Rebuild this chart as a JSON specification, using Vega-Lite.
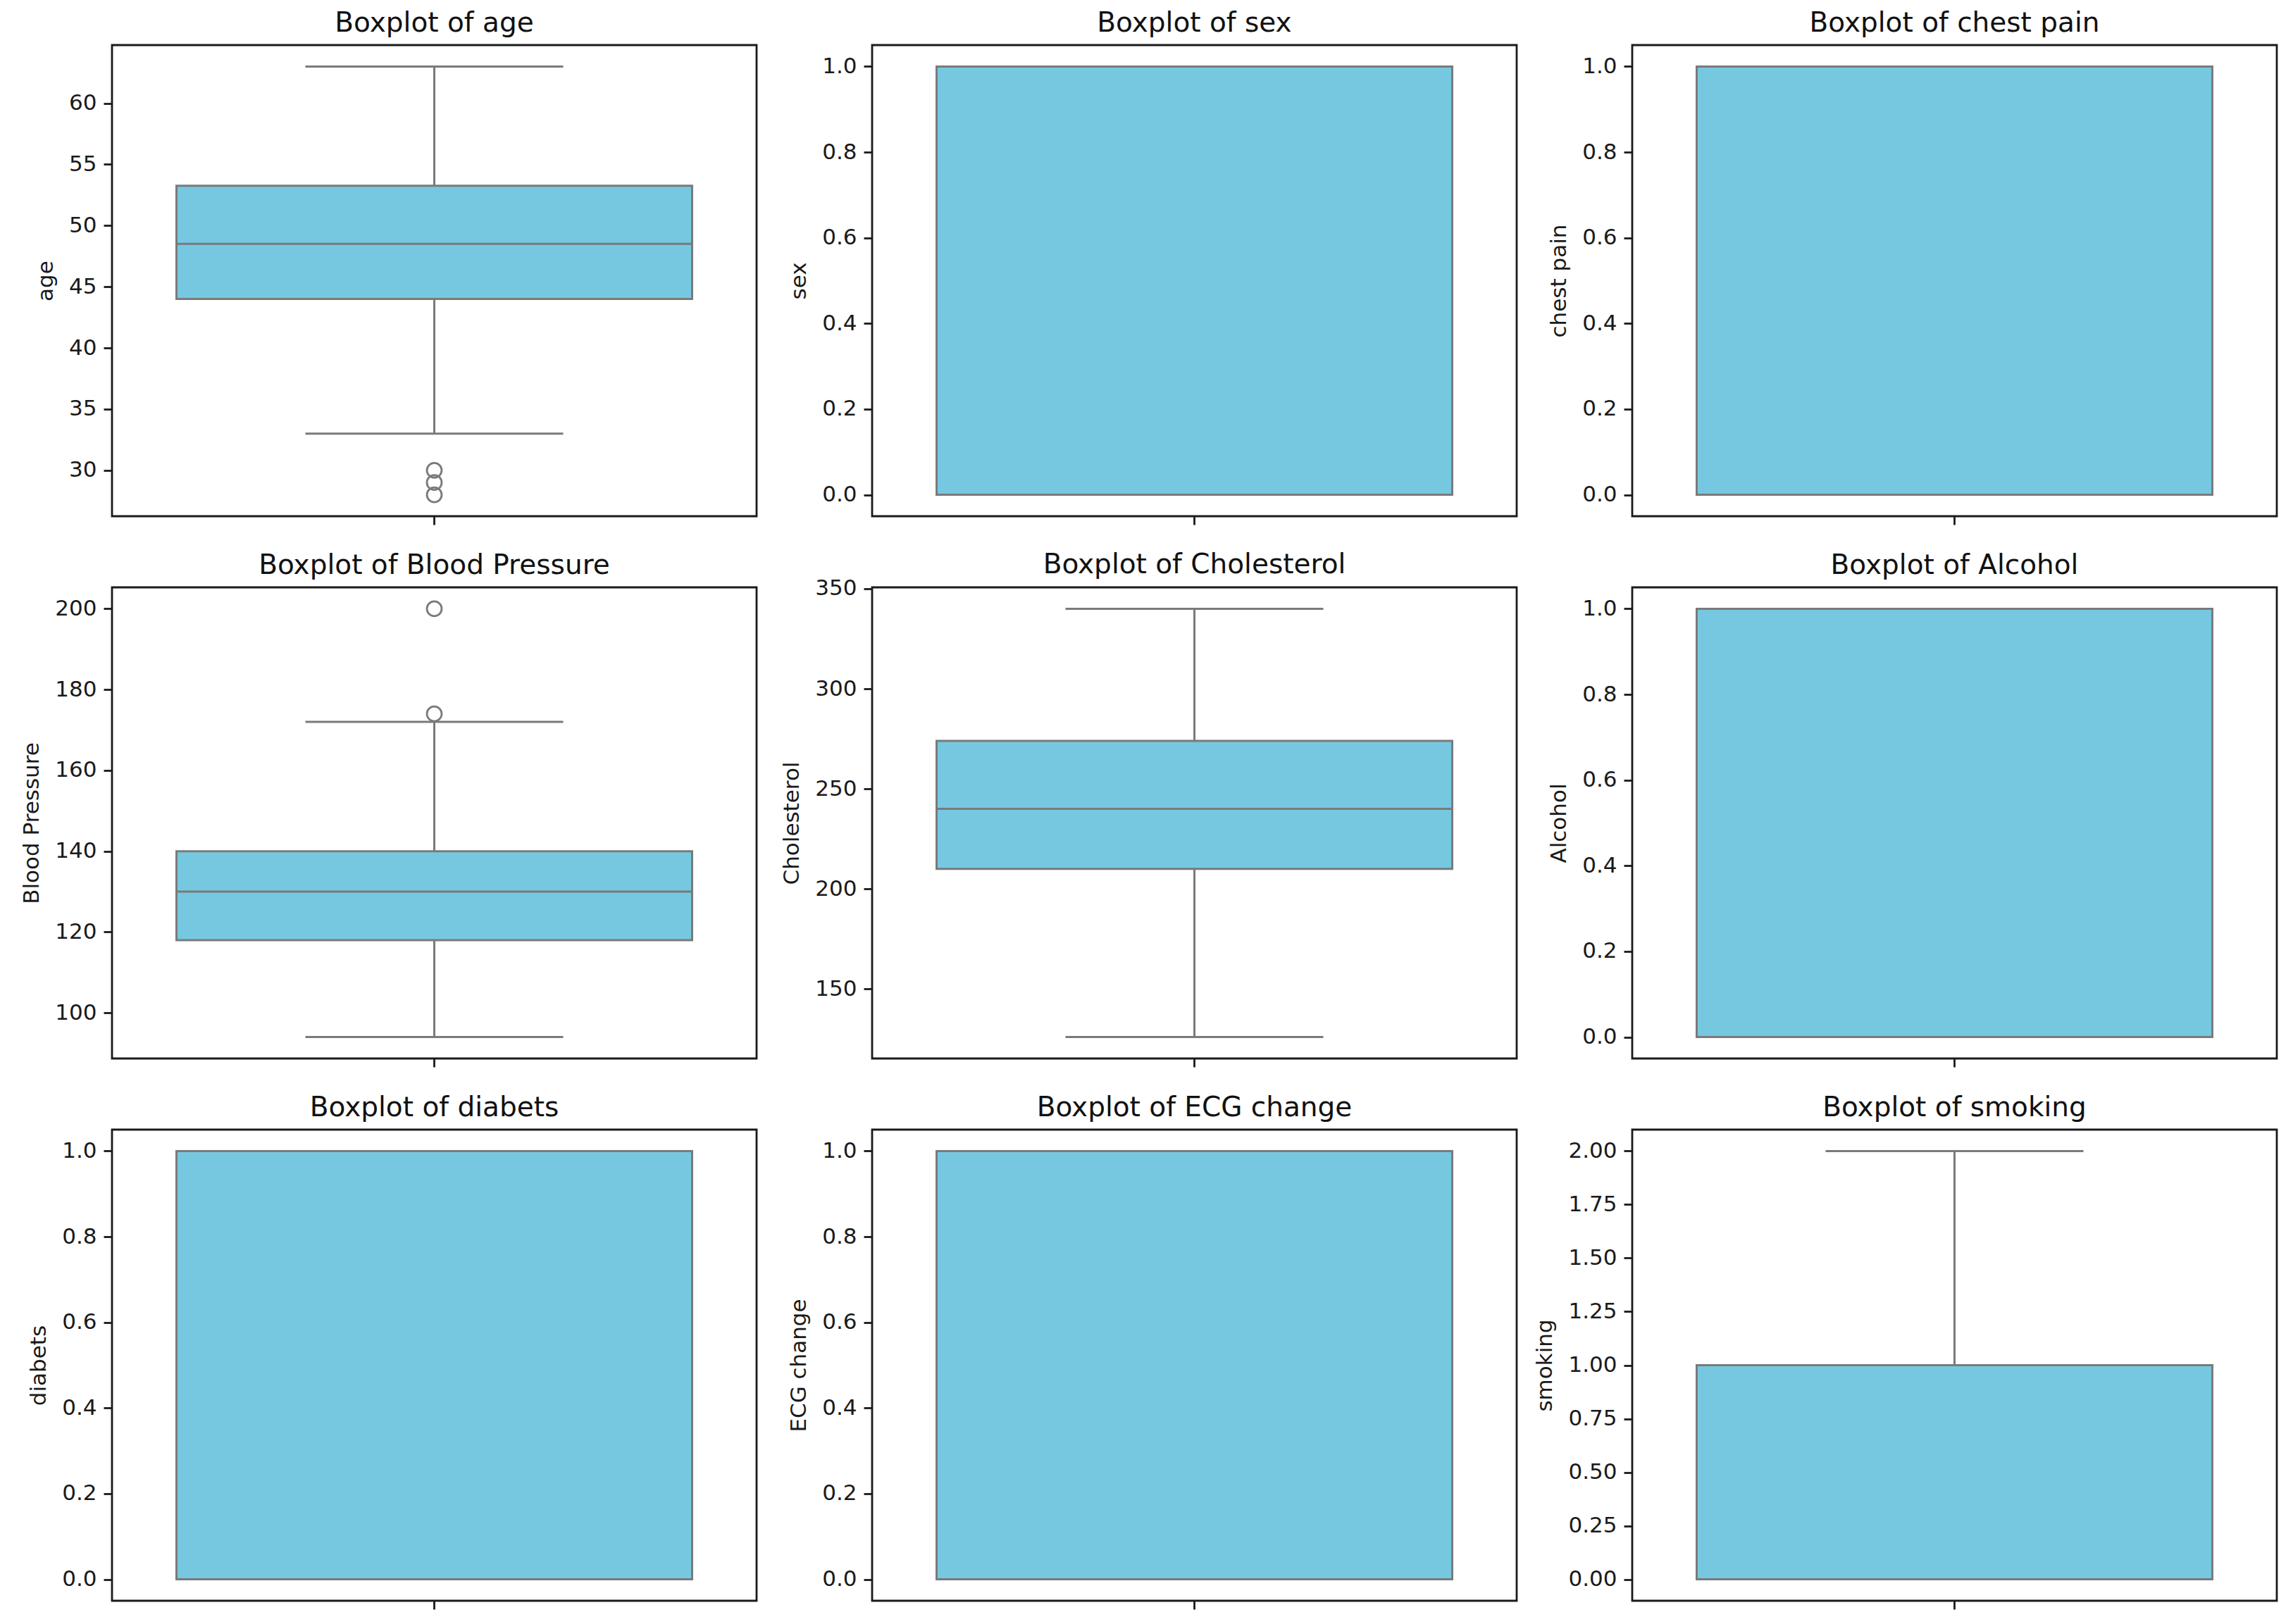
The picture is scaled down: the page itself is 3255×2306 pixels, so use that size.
{
  "$schema": "https://vega.github.io/schema/vega-lite/v6.json",
  "background": "white",
  "padding": {"left": 28, "top": 12, "right": 10, "bottom": 10},
  "data": {"values": [
    {"variable": "age", "stat": "lower", "value": 33},
    {"variable": "age", "stat": "q1", "value": 44},
    {"variable": "age", "stat": "median", "value": 48.5},
    {"variable": "age", "stat": "q3", "value": 53.25},
    {"variable": "age", "stat": "upper", "value": 63},
    {"variable": "age", "stat": "outlier", "value": 30},
    {"variable": "age", "stat": "outlier", "value": 29},
    {"variable": "age", "stat": "outlier", "value": 28},
    {"variable": "sex", "stat": "lower", "value": 0},
    {"variable": "sex", "stat": "q1", "value": 0},
    {"variable": "sex", "stat": "median", "value": 1},
    {"variable": "sex", "stat": "q3", "value": 1},
    {"variable": "sex", "stat": "upper", "value": 1},
    {"variable": "chest pain", "stat": "lower", "value": 0},
    {"variable": "chest pain", "stat": "q1", "value": 0},
    {"variable": "chest pain", "stat": "median", "value": 1},
    {"variable": "chest pain", "stat": "q3", "value": 1},
    {"variable": "chest pain", "stat": "upper", "value": 1},
    {"variable": "Blood Pressure", "stat": "lower", "value": 94},
    {"variable": "Blood Pressure", "stat": "q1", "value": 118},
    {"variable": "Blood Pressure", "stat": "median", "value": 130},
    {"variable": "Blood Pressure", "stat": "q3", "value": 140},
    {"variable": "Blood Pressure", "stat": "upper", "value": 172},
    {"variable": "Blood Pressure", "stat": "outlier", "value": 174},
    {"variable": "Blood Pressure", "stat": "outlier", "value": 200},
    {"variable": "Cholesterol", "stat": "lower", "value": 126},
    {"variable": "Cholesterol", "stat": "q1", "value": 210},
    {"variable": "Cholesterol", "stat": "median", "value": 240},
    {"variable": "Cholesterol", "stat": "q3", "value": 274},
    {"variable": "Cholesterol", "stat": "upper", "value": 340},
    {"variable": "Alcohol", "stat": "lower", "value": 0},
    {"variable": "Alcohol", "stat": "q1", "value": 0},
    {"variable": "Alcohol", "stat": "median", "value": 1},
    {"variable": "Alcohol", "stat": "q3", "value": 1},
    {"variable": "Alcohol", "stat": "upper", "value": 1},
    {"variable": "diabets", "stat": "lower", "value": 0},
    {"variable": "diabets", "stat": "q1", "value": 0},
    {"variable": "diabets", "stat": "median", "value": 0},
    {"variable": "diabets", "stat": "q3", "value": 1},
    {"variable": "diabets", "stat": "upper", "value": 1},
    {"variable": "ECG change", "stat": "lower", "value": 0},
    {"variable": "ECG change", "stat": "q1", "value": 0},
    {"variable": "ECG change", "stat": "median", "value": 0},
    {"variable": "ECG change", "stat": "q3", "value": 1},
    {"variable": "ECG change", "stat": "upper", "value": 1},
    {"variable": "smoking", "stat": "lower", "value": 0},
    {"variable": "smoking", "stat": "q1", "value": 0},
    {"variable": "smoking", "stat": "median", "value": 1},
    {"variable": "smoking", "stat": "q3", "value": 1},
    {"variable": "smoking", "stat": "upper", "value": 2}
  ]},
  "columns": 3,
  "bounds": "flush",
  "align": "all",
  "spacing": {"row": 101, "column": 164},
  "concat": [
    {
      "title": "Boxplot of age", "width": 915, "height": 669,
      "transform": [{"filter": "datum.variable === 'age'"}],
      "encoding": {
        "x": {"field": "variable", "type": "nominal", "scale": {"type": "band", "paddingInner": 0, "paddingOuter": 0}, "axis": {"title": null, "labels": false, "ticks": true, "domain": false}},
        "y": {"field": "value", "type": "quantitative", "title": "age", "scale": {"domain": [26.25, 64.75], "nice": false, "zero": false}, "axis": {"values": [30, 35, 40, 45, 50, 55, 60]}}
      },
      "layer": [
        {"transform": [{"filter": "datum.stat === 'lower' || datum.stat === 'upper'"}, {"aggregate": [{"op": "min", "field": "value", "as": "value"}, {"op": "max", "field": "value", "as": "value2"}], "groupby": ["variable"]}], "mark": {"type": "rule", "color": "#7a7a7a", "strokeWidth": 3}, "encoding": {"y2": {"field": "value2"}}},
        {"transform": [{"filter": "datum.stat === 'q1' || datum.stat === 'q3'"}, {"aggregate": [{"op": "min", "field": "value", "as": "value"}, {"op": "max", "field": "value", "as": "value2"}], "groupby": ["variable"]}], "mark": {"type": "bar", "fill": "#76c8e1", "stroke": "#7a7a7a", "strokeWidth": 3, "width": {"band": 0.8}}, "encoding": {"y2": {"field": "value2"}}},
        {"transform": [{"filter": "datum.stat === 'median'"}], "mark": {"type": "tick", "color": "#7a7a7a", "size": 732, "thickness": 3, "opacity": 1}},
        {"transform": [{"filter": "datum.stat === 'lower' || datum.stat === 'upper'"}], "mark": {"type": "tick", "color": "#7a7a7a", "size": 366, "thickness": 3, "opacity": 1}},
        {"transform": [{"filter": "datum.stat === 'outlier'"}], "mark": {"type": "point", "shape": "circle", "filled": false, "color": "#7a7a7a", "size": 440, "strokeWidth": 2.8, "opacity": 1}}
      ]
    },
    {
      "title": "Boxplot of sex", "width": 915, "height": 669,
      "transform": [{"filter": "datum.variable === 'sex'"}],
      "encoding": {
        "x": {"field": "variable", "type": "nominal", "scale": {"type": "band", "paddingInner": 0, "paddingOuter": 0}, "axis": {"title": null, "labels": false, "ticks": true, "domain": false}},
        "y": {"field": "value", "type": "quantitative", "title": "sex", "scale": {"domain": [-0.05, 1.05], "nice": false, "zero": false}, "axis": {"values": [0, 0.2, 0.4, 0.6, 0.8, 1.0], "format": ".1f"}}
      },
      "layer": [
        {"transform": [{"filter": "datum.stat === 'lower' || datum.stat === 'upper'"}, {"aggregate": [{"op": "min", "field": "value", "as": "value"}, {"op": "max", "field": "value", "as": "value2"}], "groupby": ["variable"]}], "mark": {"type": "rule", "color": "#7a7a7a", "strokeWidth": 3}, "encoding": {"y2": {"field": "value2"}}},
        {"transform": [{"filter": "datum.stat === 'q1' || datum.stat === 'q3'"}, {"aggregate": [{"op": "min", "field": "value", "as": "value"}, {"op": "max", "field": "value", "as": "value2"}], "groupby": ["variable"]}], "mark": {"type": "bar", "fill": "#76c8e1", "stroke": "#7a7a7a", "strokeWidth": 3, "width": {"band": 0.8}}, "encoding": {"y2": {"field": "value2"}}},
        {"transform": [{"filter": "datum.stat === 'median'"}], "mark": {"type": "tick", "color": "#7a7a7a", "size": 732, "thickness": 3, "opacity": 1}},
        {"transform": [{"filter": "datum.stat === 'lower' || datum.stat === 'upper'"}], "mark": {"type": "tick", "color": "#7a7a7a", "size": 366, "thickness": 3, "opacity": 1}},
        {"transform": [{"filter": "datum.stat === 'outlier'"}], "mark": {"type": "point", "shape": "circle", "filled": false, "color": "#7a7a7a", "size": 440, "strokeWidth": 2.8, "opacity": 1}}
      ]
    },
    {
      "title": "Boxplot of chest pain", "width": 915, "height": 669,
      "transform": [{"filter": "datum.variable === 'chest pain'"}],
      "encoding": {
        "x": {"field": "variable", "type": "nominal", "scale": {"type": "band", "paddingInner": 0, "paddingOuter": 0}, "axis": {"title": null, "labels": false, "ticks": true, "domain": false}},
        "y": {"field": "value", "type": "quantitative", "title": "chest pain", "scale": {"domain": [-0.05, 1.05], "nice": false, "zero": false}, "axis": {"values": [0, 0.2, 0.4, 0.6, 0.8, 1.0], "format": ".1f"}}
      },
      "layer": [
        {"transform": [{"filter": "datum.stat === 'lower' || datum.stat === 'upper'"}, {"aggregate": [{"op": "min", "field": "value", "as": "value"}, {"op": "max", "field": "value", "as": "value2"}], "groupby": ["variable"]}], "mark": {"type": "rule", "color": "#7a7a7a", "strokeWidth": 3}, "encoding": {"y2": {"field": "value2"}}},
        {"transform": [{"filter": "datum.stat === 'q1' || datum.stat === 'q3'"}, {"aggregate": [{"op": "min", "field": "value", "as": "value"}, {"op": "max", "field": "value", "as": "value2"}], "groupby": ["variable"]}], "mark": {"type": "bar", "fill": "#76c8e1", "stroke": "#7a7a7a", "strokeWidth": 3, "width": {"band": 0.8}}, "encoding": {"y2": {"field": "value2"}}},
        {"transform": [{"filter": "datum.stat === 'median'"}], "mark": {"type": "tick", "color": "#7a7a7a", "size": 732, "thickness": 3, "opacity": 1}},
        {"transform": [{"filter": "datum.stat === 'lower' || datum.stat === 'upper'"}], "mark": {"type": "tick", "color": "#7a7a7a", "size": 366, "thickness": 3, "opacity": 1}},
        {"transform": [{"filter": "datum.stat === 'outlier'"}], "mark": {"type": "point", "shape": "circle", "filled": false, "color": "#7a7a7a", "size": 440, "strokeWidth": 2.8, "opacity": 1}}
      ]
    },
    {
      "title": "Boxplot of Blood Pressure", "width": 915, "height": 669,
      "transform": [{"filter": "datum.variable === 'Blood Pressure'"}],
      "encoding": {
        "x": {"field": "variable", "type": "nominal", "scale": {"type": "band", "paddingInner": 0, "paddingOuter": 0}, "axis": {"title": null, "labels": false, "ticks": true, "domain": false}},
        "y": {"field": "value", "type": "quantitative", "title": "Blood Pressure", "scale": {"domain": [88.7, 205.3], "nice": false, "zero": false}, "axis": {"values": [100, 120, 140, 160, 180, 200]}}
      },
      "layer": [
        {"transform": [{"filter": "datum.stat === 'lower' || datum.stat === 'upper'"}, {"aggregate": [{"op": "min", "field": "value", "as": "value"}, {"op": "max", "field": "value", "as": "value2"}], "groupby": ["variable"]}], "mark": {"type": "rule", "color": "#7a7a7a", "strokeWidth": 3}, "encoding": {"y2": {"field": "value2"}}},
        {"transform": [{"filter": "datum.stat === 'q1' || datum.stat === 'q3'"}, {"aggregate": [{"op": "min", "field": "value", "as": "value"}, {"op": "max", "field": "value", "as": "value2"}], "groupby": ["variable"]}], "mark": {"type": "bar", "fill": "#76c8e1", "stroke": "#7a7a7a", "strokeWidth": 3, "width": {"band": 0.8}}, "encoding": {"y2": {"field": "value2"}}},
        {"transform": [{"filter": "datum.stat === 'median'"}], "mark": {"type": "tick", "color": "#7a7a7a", "size": 732, "thickness": 3, "opacity": 1}},
        {"transform": [{"filter": "datum.stat === 'lower' || datum.stat === 'upper'"}], "mark": {"type": "tick", "color": "#7a7a7a", "size": 366, "thickness": 3, "opacity": 1}},
        {"transform": [{"filter": "datum.stat === 'outlier'"}], "mark": {"type": "point", "shape": "circle", "filled": false, "color": "#7a7a7a", "size": 440, "strokeWidth": 2.8, "opacity": 1}}
      ]
    },
    {
      "title": {"text": "Boxplot of Cholesterol", "dy": 13},
      "width": 915, "height": 669,
      "transform": [{"filter": "datum.variable === 'Cholesterol'"}],
      "encoding": {
        "x": {"field": "variable", "type": "nominal", "scale": {"type": "band", "paddingInner": 0, "paddingOuter": 0}, "axis": {"title": null, "labels": false, "ticks": true, "domain": false}},
        "y": {"field": "value", "type": "quantitative", "title": "Cholesterol", "scale": {"domain": [115.3, 350.7], "nice": false, "zero": false}, "axis": {"values": [150, 200, 250, 300, 350]}}
      },
      "layer": [
        {"transform": [{"filter": "datum.stat === 'lower' || datum.stat === 'upper'"}, {"aggregate": [{"op": "min", "field": "value", "as": "value"}, {"op": "max", "field": "value", "as": "value2"}], "groupby": ["variable"]}], "mark": {"type": "rule", "color": "#7a7a7a", "strokeWidth": 3}, "encoding": {"y2": {"field": "value2"}}},
        {"transform": [{"filter": "datum.stat === 'q1' || datum.stat === 'q3'"}, {"aggregate": [{"op": "min", "field": "value", "as": "value"}, {"op": "max", "field": "value", "as": "value2"}], "groupby": ["variable"]}], "mark": {"type": "bar", "fill": "#76c8e1", "stroke": "#7a7a7a", "strokeWidth": 3, "width": {"band": 0.8}}, "encoding": {"y2": {"field": "value2"}}},
        {"transform": [{"filter": "datum.stat === 'median'"}], "mark": {"type": "tick", "color": "#7a7a7a", "size": 732, "thickness": 3, "opacity": 1}},
        {"transform": [{"filter": "datum.stat === 'lower' || datum.stat === 'upper'"}], "mark": {"type": "tick", "color": "#7a7a7a", "size": 366, "thickness": 3, "opacity": 1}},
        {"transform": [{"filter": "datum.stat === 'outlier'"}], "mark": {"type": "point", "shape": "circle", "filled": false, "color": "#7a7a7a", "size": 440, "strokeWidth": 2.8, "opacity": 1}}
      ]
    },
    {
      "title": "Boxplot of Alcohol", "width": 915, "height": 669,
      "transform": [{"filter": "datum.variable === 'Alcohol'"}],
      "encoding": {
        "x": {"field": "variable", "type": "nominal", "scale": {"type": "band", "paddingInner": 0, "paddingOuter": 0}, "axis": {"title": null, "labels": false, "ticks": true, "domain": false}},
        "y": {"field": "value", "type": "quantitative", "title": "Alcohol", "scale": {"domain": [-0.05, 1.05], "nice": false, "zero": false}, "axis": {"values": [0, 0.2, 0.4, 0.6, 0.8, 1.0], "format": ".1f"}}
      },
      "layer": [
        {"transform": [{"filter": "datum.stat === 'lower' || datum.stat === 'upper'"}, {"aggregate": [{"op": "min", "field": "value", "as": "value"}, {"op": "max", "field": "value", "as": "value2"}], "groupby": ["variable"]}], "mark": {"type": "rule", "color": "#7a7a7a", "strokeWidth": 3}, "encoding": {"y2": {"field": "value2"}}},
        {"transform": [{"filter": "datum.stat === 'q1' || datum.stat === 'q3'"}, {"aggregate": [{"op": "min", "field": "value", "as": "value"}, {"op": "max", "field": "value", "as": "value2"}], "groupby": ["variable"]}], "mark": {"type": "bar", "fill": "#76c8e1", "stroke": "#7a7a7a", "strokeWidth": 3, "width": {"band": 0.8}}, "encoding": {"y2": {"field": "value2"}}},
        {"transform": [{"filter": "datum.stat === 'median'"}], "mark": {"type": "tick", "color": "#7a7a7a", "size": 732, "thickness": 3, "opacity": 1}},
        {"transform": [{"filter": "datum.stat === 'lower' || datum.stat === 'upper'"}], "mark": {"type": "tick", "color": "#7a7a7a", "size": 366, "thickness": 3, "opacity": 1}},
        {"transform": [{"filter": "datum.stat === 'outlier'"}], "mark": {"type": "point", "shape": "circle", "filled": false, "color": "#7a7a7a", "size": 440, "strokeWidth": 2.8, "opacity": 1}}
      ]
    },
    {
      "title": "Boxplot of diabets", "width": 915, "height": 669,
      "transform": [{"filter": "datum.variable === 'diabets'"}],
      "encoding": {
        "x": {"field": "variable", "type": "nominal", "scale": {"type": "band", "paddingInner": 0, "paddingOuter": 0}, "axis": {"title": null, "labels": false, "ticks": true, "domain": false}},
        "y": {"field": "value", "type": "quantitative", "title": "diabets", "scale": {"domain": [-0.05, 1.05], "nice": false, "zero": false}, "axis": {"values": [0, 0.2, 0.4, 0.6, 0.8, 1.0], "format": ".1f"}}
      },
      "layer": [
        {"transform": [{"filter": "datum.stat === 'lower' || datum.stat === 'upper'"}, {"aggregate": [{"op": "min", "field": "value", "as": "value"}, {"op": "max", "field": "value", "as": "value2"}], "groupby": ["variable"]}], "mark": {"type": "rule", "color": "#7a7a7a", "strokeWidth": 3}, "encoding": {"y2": {"field": "value2"}}},
        {"transform": [{"filter": "datum.stat === 'q1' || datum.stat === 'q3'"}, {"aggregate": [{"op": "min", "field": "value", "as": "value"}, {"op": "max", "field": "value", "as": "value2"}], "groupby": ["variable"]}], "mark": {"type": "bar", "fill": "#76c8e1", "stroke": "#7a7a7a", "strokeWidth": 3, "width": {"band": 0.8}}, "encoding": {"y2": {"field": "value2"}}},
        {"transform": [{"filter": "datum.stat === 'median'"}], "mark": {"type": "tick", "color": "#7a7a7a", "size": 732, "thickness": 3, "opacity": 1}},
        {"transform": [{"filter": "datum.stat === 'lower' || datum.stat === 'upper'"}], "mark": {"type": "tick", "color": "#7a7a7a", "size": 366, "thickness": 3, "opacity": 1}},
        {"transform": [{"filter": "datum.stat === 'outlier'"}], "mark": {"type": "point", "shape": "circle", "filled": false, "color": "#7a7a7a", "size": 440, "strokeWidth": 2.8, "opacity": 1}}
      ]
    },
    {
      "title": "Boxplot of ECG change", "width": 915, "height": 669,
      "transform": [{"filter": "datum.variable === 'ECG change'"}],
      "encoding": {
        "x": {"field": "variable", "type": "nominal", "scale": {"type": "band", "paddingInner": 0, "paddingOuter": 0}, "axis": {"title": null, "labels": false, "ticks": true, "domain": false}},
        "y": {"field": "value", "type": "quantitative", "title": "ECG change", "scale": {"domain": [-0.05, 1.05], "nice": false, "zero": false}, "axis": {"values": [0, 0.2, 0.4, 0.6, 0.8, 1.0], "format": ".1f"}}
      },
      "layer": [
        {"transform": [{"filter": "datum.stat === 'lower' || datum.stat === 'upper'"}, {"aggregate": [{"op": "min", "field": "value", "as": "value"}, {"op": "max", "field": "value", "as": "value2"}], "groupby": ["variable"]}], "mark": {"type": "rule", "color": "#7a7a7a", "strokeWidth": 3}, "encoding": {"y2": {"field": "value2"}}},
        {"transform": [{"filter": "datum.stat === 'q1' || datum.stat === 'q3'"}, {"aggregate": [{"op": "min", "field": "value", "as": "value"}, {"op": "max", "field": "value", "as": "value2"}], "groupby": ["variable"]}], "mark": {"type": "bar", "fill": "#76c8e1", "stroke": "#7a7a7a", "strokeWidth": 3, "width": {"band": 0.8}}, "encoding": {"y2": {"field": "value2"}}},
        {"transform": [{"filter": "datum.stat === 'median'"}], "mark": {"type": "tick", "color": "#7a7a7a", "size": 732, "thickness": 3, "opacity": 1}},
        {"transform": [{"filter": "datum.stat === 'lower' || datum.stat === 'upper'"}], "mark": {"type": "tick", "color": "#7a7a7a", "size": 366, "thickness": 3, "opacity": 1}},
        {"transform": [{"filter": "datum.stat === 'outlier'"}], "mark": {"type": "point", "shape": "circle", "filled": false, "color": "#7a7a7a", "size": 440, "strokeWidth": 2.8, "opacity": 1}}
      ]
    },
    {
      "title": "Boxplot of smoking", "width": 915, "height": 669,
      "transform": [{"filter": "datum.variable === 'smoking'"}],
      "encoding": {
        "x": {"field": "variable", "type": "nominal", "scale": {"type": "band", "paddingInner": 0, "paddingOuter": 0}, "axis": {"title": null, "labels": false, "ticks": true, "domain": false}},
        "y": {"field": "value", "type": "quantitative", "title": "smoking", "scale": {"domain": [-0.1, 2.1], "nice": false, "zero": false}, "axis": {"values": [0, 0.25, 0.5, 0.75, 1.0, 1.25, 1.5, 1.75, 2.0], "format": ".2f"}}
      },
      "layer": [
        {"transform": [{"filter": "datum.stat === 'lower' || datum.stat === 'upper'"}, {"aggregate": [{"op": "min", "field": "value", "as": "value"}, {"op": "max", "field": "value", "as": "value2"}], "groupby": ["variable"]}], "mark": {"type": "rule", "color": "#7a7a7a", "strokeWidth": 3}, "encoding": {"y2": {"field": "value2"}}},
        {"transform": [{"filter": "datum.stat === 'q1' || datum.stat === 'q3'"}, {"aggregate": [{"op": "min", "field": "value", "as": "value"}, {"op": "max", "field": "value", "as": "value2"}], "groupby": ["variable"]}], "mark": {"type": "bar", "fill": "#76c8e1", "stroke": "#7a7a7a", "strokeWidth": 3, "width": {"band": 0.8}}, "encoding": {"y2": {"field": "value2"}}},
        {"transform": [{"filter": "datum.stat === 'median'"}], "mark": {"type": "tick", "color": "#7a7a7a", "size": 732, "thickness": 3, "opacity": 1}},
        {"transform": [{"filter": "datum.stat === 'lower' || datum.stat === 'upper'"}], "mark": {"type": "tick", "color": "#7a7a7a", "size": 366, "thickness": 3, "opacity": 1}},
        {"transform": [{"filter": "datum.stat === 'outlier'"}], "mark": {"type": "point", "shape": "circle", "filled": false, "color": "#7a7a7a", "size": 440, "strokeWidth": 2.8, "opacity": 1}}
      ]
    }
  ],
  "resolve": {"scale": {"y": "independent", "x": "independent"}, "axis": {"y": "independent"}},
  "config": {
    "view": {"stroke": "#1a1a1a", "strokeWidth": 2.8},
    "font": "DejaVu Sans",
    "axis": {
      "labelFont": "DejaVu Sans", "labelFontSize": 31, "labelColor": "#1a1a1a",
      "titleFont": "DejaVu Sans", "titleFontSize": 31, "titleFontWeight": "normal", "titleColor": "#1a1a1a",
      "tickColor": "#1a1a1a", "tickSize": 12, "tickWidth": 2.8, "labelPadding": 10, "titlePadding": 16,
      "grid": false, "domain": false
    },
    "title": {"font": "DejaVu Sans", "fontSize": 39, "fontWeight": "normal", "color": "#111111", "anchor": "middle", "baseline": "alphabetic", "offset": 11}
  }
}
